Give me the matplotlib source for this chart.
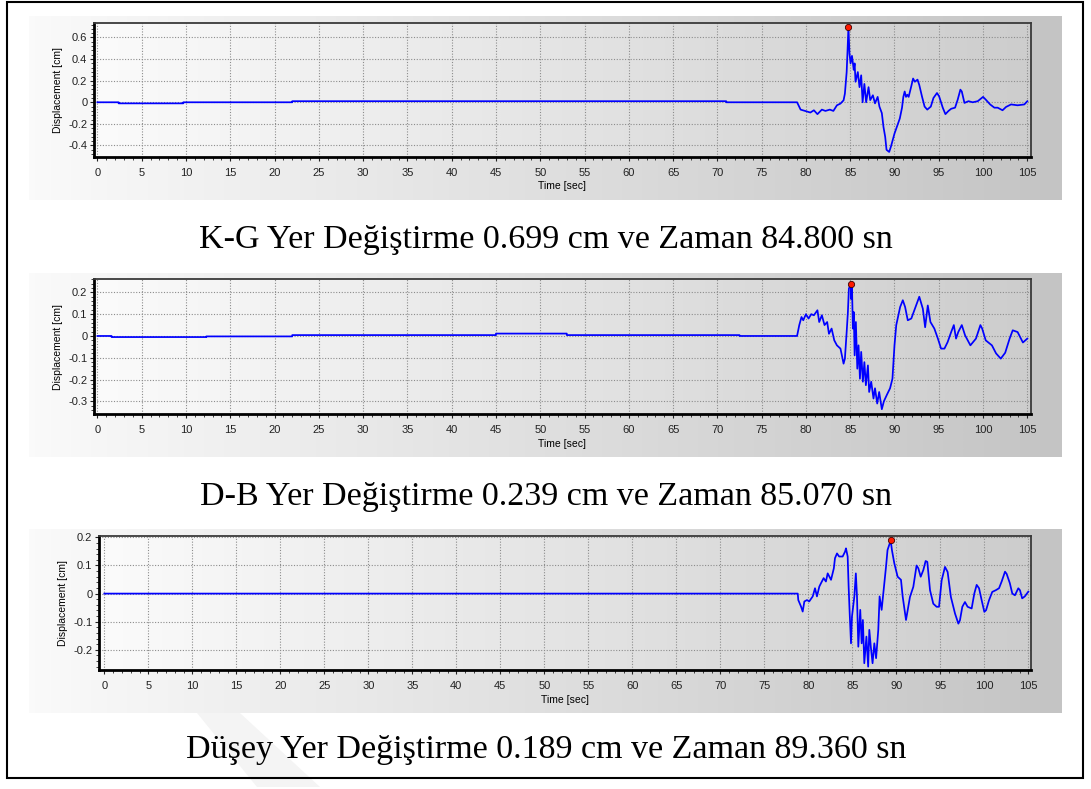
import matplotlib
matplotlib.use("Agg")
import matplotlib.pyplot as plt
import numpy as np
from matplotlib.colors import LinearSegmentedColormap
from matplotlib.patches import Rectangle, Polygon
from matplotlib.ticker import MultipleLocator, AutoMinorLocator, FuncFormatter

W, H = 1091, 789

# K-G component, displacement [cm] vs time [sec]
kg_time = [0.0, 2.4, 2.4, 9.7, 9.7, 22.0, 22.0, 71.0, 71.0, 79.0,
           79.4, 79.9, 80.5, 80.9, 81.3, 81.8, 82.2, 82.7, 83.1, 83.5,
           83.9, 84.25, 84.4, 84.6, 84.7, 84.8, 84.92, 85.04, 85.2, 85.4,
           85.5, 85.6, 85.86, 86.05, 86.24, 86.4, 86.6, 86.8, 87.07, 87.26,
           87.56, 87.8, 88.1, 88.3, 88.57, 88.76, 88.95, 89.1, 89.4, 89.6,
           90.0, 90.3, 90.6, 90.85, 91.0, 91.15, 91.3, 91.45, 91.6, 91.9,
           92.1, 92.3, 92.6, 92.8, 93.1, 93.4, 93.7, 94.1, 94.4, 94.8,
           95.04, 95.45, 95.75, 96.1, 96.4, 96.84, 97.14, 97.44, 97.6, 97.9,
           98.35, 98.83, 99.4, 100.0, 100.3, 100.8, 101.28, 101.65, 102.2, 102.6,
           103.16, 103.9, 104.66, 105.0]
kg_disp = [0.0, 0.0, -0.01, -0.01, 0.0, 0.0, 0.01, 0.01, 0.0, 0.0,
           -0.068, -0.08, -0.095, -0.074, -0.11, -0.068, -0.08, -0.068, -0.08, -0.028,
           -0.012, 0.018, 0.08, 0.28, 0.48, 0.699, 0.45, 0.36, 0.43, 0.30,
           0.36, 0.19, 0.28, 0.14, 0.25, 0.0, 0.17, 0.0, 0.14, 0.02,
           0.065, -0.01, 0.05, -0.04, -0.10, -0.23, -0.32, -0.44, -0.46, -0.41,
           -0.29, -0.22, -0.15, -0.05, 0.05, 0.10, 0.05, 0.07, 0.05, 0.15,
           0.22, 0.19, 0.21, 0.16, 0.055, -0.04, -0.068, -0.04, 0.04, 0.086,
           0.055, -0.05, -0.11, -0.08, -0.06, -0.05, 0.025, 0.117, 0.10, -0.006,
           0.01, 0.0, 0.01, 0.05, 0.025, -0.02, -0.05, -0.05, -0.074, -0.043,
           -0.02, -0.028, -0.02, 0.01]
kg_peak = (84.8, 0.699)

# D-B component
db_time = [0.0, 1.6, 1.6, 12.3, 12.3, 22.0, 22.0, 45.0, 45.0, 53.0, 53.0, 72.5, 72.5, 79.0,
           79.25, 79.5, 79.7, 80.0, 80.3, 80.6, 80.9, 81.3, 81.5, 81.8,
           82.1, 82.4, 82.6, 82.9, 83.2, 83.5, 83.9, 84.06, 84.25, 84.4,
           84.6, 84.74, 84.85, 85.07, 85.1, 85.2, 85.3, 85.4, 85.5, 85.64,
           85.8, 85.94, 86.1, 86.24, 86.43, 86.6, 86.77, 87.0, 87.14, 87.37,
           87.63, 87.8, 88.05, 88.27, 88.57, 88.8, 89.14, 89.5, 89.77, 90.0,
           90.2, 90.64, 90.94, 91.2, 91.5, 91.9, 92.44, 92.8, 93.2, 93.46,
           93.76, 94.06, 94.5, 94.9, 95.26, 95.64, 96.0, 96.4, 96.7, 96.95,
           97.2, 97.6, 97.97, 98.57, 99.2, 99.7, 99.9, 100.3, 101.0, 101.47,
           102.0, 102.5, 103.0, 103.35, 103.9, 104.5, 105.0]
db_disp = [0.0, 0.0, -0.005, -0.005, -0.002, -0.002, 0.004, 0.004, 0.011, 0.011, 0.004, 0.004, 0.0, 0.0,
           0.05, 0.087, 0.072, 0.10, 0.08, 0.10, 0.095, 0.118, 0.064, 0.095,
           0.05, 0.064, 0.01, 0.034, -0.02, -0.043, -0.058, -0.089, -0.127, -0.104,
           0.018, 0.11, 0.217, 0.239, 0.17, 0.23, 0.034, 0.11, -0.089, 0.064,
           -0.15, -0.043, -0.196, -0.073, -0.21, -0.12, -0.226, -0.135, -0.257, -0.21,
           -0.287, -0.24, -0.31, -0.257, -0.336, -0.30, -0.27, -0.24, -0.196, -0.043,
           0.05, 0.133, 0.164, 0.133, 0.072, 0.08, 0.14, 0.18, 0.125, 0.04,
           0.14, 0.064, 0.034, -0.012, -0.058, -0.058, -0.028, 0.018, 0.05, -0.012,
           0.018, 0.05, 0.003, -0.043, -0.012, 0.05, 0.034, -0.02, -0.043, -0.08,
           -0.104, -0.077, -0.012, 0.026, 0.018, -0.03, -0.012]
db_peak = (85.07, 0.239)

# Vertical component
dy_time = [0.0, 78.8, 78.86, 79.17, 79.36, 79.55, 79.85, 80.1, 80.5, 80.76,
           80.98, 81.25, 81.44, 81.74, 82.0, 82.2, 82.58, 82.9, 83.03, 83.26,
           83.5, 83.9, 84.17, 84.28, 84.47, 84.58, 84.7, 84.85, 84.96, 85.23,
           85.4, 85.53, 85.68, 85.9, 86.06, 86.2, 86.36, 86.6, 86.8, 86.93,
           87.1, 87.3, 87.5, 87.7, 87.95, 88.1, 88.33, 88.56, 88.83, 89.0,
           89.36, 89.5, 89.77, 90.15, 90.53, 90.72, 91.1, 91.55, 91.93, 92.3,
           92.5, 92.77, 93.07, 93.33, 93.52, 93.83, 94.2, 94.58, 94.85, 95.15,
           95.53, 95.83, 96.2, 96.67, 97.05, 97.23, 97.5, 97.8, 98.1, 98.56,
           98.86, 99.13, 99.4, 99.7, 100.0, 100.2, 100.53, 100.9, 101.3, 101.67,
           101.97, 102.35, 102.54, 102.9, 103.18, 103.48, 103.86, 104.05, 104.3, 104.6,
           105.0]
dy_disp = [0.0, 0.0, -0.023, -0.046, -0.064, -0.028, -0.023, -0.028, -0.01, 0.019,
           -0.01, 0.025, 0.037, 0.055, 0.043, 0.072, 0.049, 0.09, 0.126, 0.143,
           0.132, 0.132, 0.149, 0.161, 0.132, 0.025, -0.07, -0.177, -0.082, -0.01,
           0.072, -0.01, -0.189, -0.058, -0.177, -0.094, -0.248, -0.153, -0.26, -0.129,
           -0.189, -0.248, -0.177, -0.23, -0.129, -0.01, -0.058, 0.013, 0.096, 0.155,
           0.189, 0.155, 0.108, 0.06, 0.049, -0.01, -0.094, -0.012, 0.024, 0.10,
           0.09, 0.06, 0.084, 0.116, 0.113, 0.012, -0.036, -0.047, -0.047, 0.047,
           0.095, 0.077, -0.012, -0.071, -0.107, -0.095, -0.047, -0.03, -0.047, -0.053,
           0.0, 0.031, 0.019, -0.024, -0.065, -0.059, -0.024, 0.006, 0.012, 0.019,
           0.043, 0.078, 0.07, 0.037, 0.0, -0.006, 0.019, 0.012, -0.017, -0.01,
           0.007]
dy_peak = (89.36, 0.189)

captions = [
    "K-G Yer Değiştirme 0.699 cm ve Zaman 84.800 sn",
    "D-B Yer Değiştirme 0.239 cm ve Zaman 85.070 sn",
    "Düşey Yer Değiştirme 0.189 cm ve Zaman 89.360 sn",
]


def box(x0, y0, x1, y1):
    # pixel box (top-left origin) -> figure fraction rect
    return [x0 / W, 1 - y1 / H, (x1 - x0) / W, (y1 - y0) / H]


def gradient(ax, c0, c1):
    cmap = LinearSegmentedColormap.from_list("g", [c0, c1])
    ax.imshow(np.linspace(0, 1, 256).reshape(1, -1), cmap=cmap, aspect="auto",
              extent=[0, 1, 0, 1], transform=ax.transAxes, zorder=0,
              interpolation="bilinear")


def draw_panel(fig, panel_px, axes_px, t, d, peak, xlim, ylim, ystep):
    bg = fig.add_axes(box(*panel_px), zorder=0)
    gradient(bg, "#fafafa", "#c4c4c4")
    bg.set_xlim(0, 1)
    bg.set_ylim(0, 1)
    bg.axis("off")

    ax = fig.add_axes(box(*axes_px), zorder=1)
    ax.set_facecolor("none")
    gradient(ax, "#fbfbfb", "#cdcdcd")

    ax.plot(t, d, color="#0000ff", lw=1.25, zorder=3)
    ax.plot(*peak, "o", color="#ff1a00", mec="#400000", mew=0.6, ms=4.5, zorder=4,
            clip_on=False)

    ax.set_xlim(*xlim)
    ax.set_ylim(*ylim)
    ax.xaxis.set_major_locator(MultipleLocator(5))
    ax.xaxis.set_minor_locator(MultipleLocator(1))
    ax.yaxis.set_major_locator(MultipleLocator(ystep))
    ax.yaxis.set_minor_locator(AutoMinorLocator(5))
    ax.yaxis.set_major_formatter(FuncFormatter(lambda v, p: "%g" % round(v, 3)))

    ax.grid(True, which="major", color="#8c8c8c", linestyle=(0, (1, 1.5)), lw=0.8)
    ax.tick_params(which="both", direction="out", colors="#222222", labelsize=8)
    ax.tick_params(which="major", length=3, width=0.8)
    ax.tick_params(which="minor", length=2, width=0.6)
    ax.tick_params(axis="x", pad=5)
    ax.tick_params(axis="y", pad=2)

    for side in ("left", "bottom"):
        ax.spines[side].set_linewidth(2.0)
        ax.spines[side].set_color("black")
    for side in ("top", "right"):
        ax.spines[side].set_linewidth(1.3)
        ax.spines[side].set_color("#3a3a3a")

    ax.set_xlabel("Time [sec]", fontsize=7.5, labelpad=2.5)
    ax.set_ylabel("Displacement [cm]", fontsize=7.5, labelpad=4)
    return ax


if __name__ == "__main__":
    plt.rcParams["font.family"] = ["Liberation Sans", "DejaVu Sans"]
    fig = plt.figure(figsize=(W / 100, H / 100), dpi=100)
    fig.patch.set_facecolor("white")

    # faint watermark band under the last panel
    fig.add_artist(Polygon([(197 / W, 1 - 713 / H), (240 / W, 1 - 713 / H),
                            (320 / W, 1 - 787 / H), (257 / W, 1 - 787 / H)],
                           closed=True, transform=fig.transFigure,
                           facecolor="#f4f4f4", edgecolor="none", zorder=-1))

    draw_panel(fig, (29, 16, 1062, 200), (94.3, 22.7, 1030.7, 156.7),
               kg_time, kg_disp, kg_peak, (-0.35, 105.38), (-0.504, 0.737), 0.2)
    draw_panel(fig, (29, 273, 1062, 457), (94.3, 279.3, 1030.7, 414),
               db_time, db_disp, db_peak, (-0.35, 105.38), (-0.358, 0.26), 0.1)
    draw_panel(fig, (29, 529, 1062, 713), (99.3, 536, 1030.7, 670),
               dy_time, dy_disp, dy_peak, (-0.57, 105.27), (-0.272, 0.205), 0.1)

    for y, text in zip((240, 497, 750), captions):
        fig.text(546 / W, 1 - y / H, text, ha="center", va="center",
                 fontsize=24.5, family=["Liberation Serif", "DejaVu Serif"])

    fig.add_artist(Rectangle((7 / W, 1 - 778 / H), 1076 / W, 776 / H,
                             transform=fig.transFigure, fill=False,
                             edgecolor="black", lw=1.5))

    fig.savefig("out.png", dpi=100)
